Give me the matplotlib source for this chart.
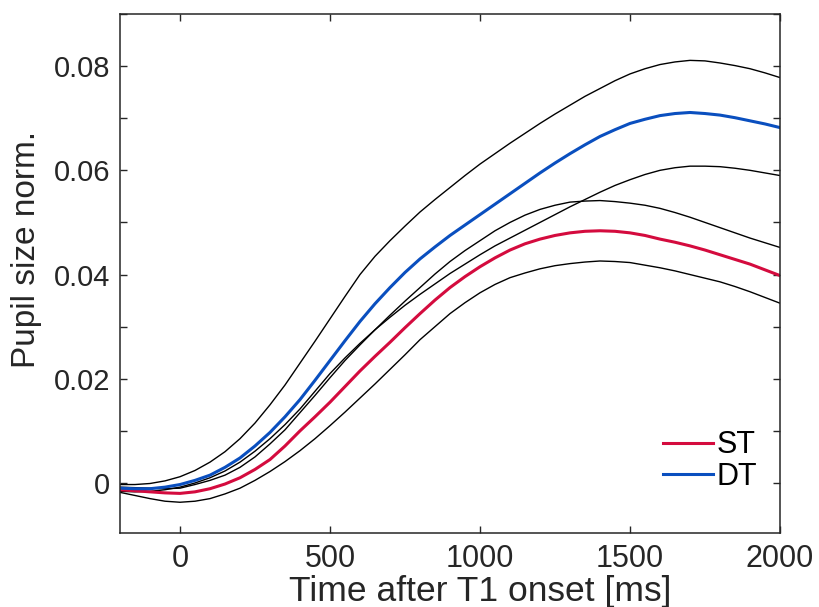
import matplotlib
matplotlib.use("Agg")
import matplotlib.pyplot as plt
from matplotlib.ticker import MultipleLocator, FuncFormatter

plt.rcParams['font.family'] = ['Liberation Sans', 'DejaVu Sans']

# time after T1 onset (ms), one sample every 50 ms
time_ms = [-200, -150, -100, -50, 0, 50, 100, 150, 200, 250, 300, 350, 400,
           450, 500, 550, 600, 650, 700, 750, 800, 850, 900, 950, 1000,
           1050, 1100, 1150, 1200, 1250, 1300, 1350, 1400, 1450, 1500,
           1550, 1600, 1650, 1700, 1750, 1800, 1850, 1900, 1950, 2000]

# single task (ST): mean and confidence bounds
st_mean = [-0.0013, -0.0015, -0.0017, -0.0019, -0.0020, -0.0017, -0.0011, -0.0002,
           0.0010, 0.0026, 0.0045, 0.0071, 0.0100, 0.0127, 0.0155, 0.0185,
           0.0215, 0.0243, 0.0270, 0.0298, 0.0325, 0.0351, 0.0375, 0.0396,
           0.0415, 0.0432, 0.0447, 0.0459, 0.0468, 0.0475, 0.0480, 0.0483,
           0.0484, 0.0483, 0.0480, 0.0475, 0.0468, 0.0462, 0.0455, 0.0447,
           0.0438, 0.0429, 0.0420, 0.0409, 0.0398]
st_upper = [-0.0008, -0.0009, -0.0010, -0.0011, -0.0010, -0.0003, 0.0005, 0.0015,
            0.0030, 0.0050, 0.0075, 0.0102, 0.0135, 0.0168, 0.0202, 0.0235,
            0.0265, 0.0294, 0.0322, 0.0349, 0.0375, 0.0401, 0.0425, 0.0446,
            0.0465, 0.0484, 0.0500, 0.0514, 0.0525, 0.0533, 0.0539, 0.0541,
            0.0542, 0.0540, 0.0537, 0.0533, 0.0527, 0.0519, 0.0510, 0.0500,
            0.0490, 0.0480, 0.0470, 0.0461, 0.0452]
st_lower = [-0.0018, -0.0024, -0.0030, -0.0035, -0.0037, -0.0035, -0.0030, -0.0021,
            -0.0010, 0.0005, 0.0022, 0.0041, 0.0062, 0.0085, 0.0110, 0.0136,
            0.0163, 0.0190, 0.0218, 0.0246, 0.0275, 0.0300, 0.0325, 0.0346,
            0.0365, 0.0381, 0.0394, 0.0403, 0.0411, 0.0417, 0.0421, 0.0424,
            0.0426, 0.0425, 0.0423, 0.0418, 0.0413, 0.0407, 0.0400, 0.0393,
            0.0386, 0.0377, 0.0367, 0.0356, 0.0345]

# dual task (DT): mean and confidence bounds
dt_mean = [-0.0010, -0.0011, -0.0011, -0.0008, -0.0003, 0.0005, 0.0015, 0.0030,
           0.0048, 0.0071, 0.0097, 0.0127, 0.0160, 0.0197, 0.0235, 0.0273,
           0.0310, 0.0344, 0.0375, 0.0404, 0.0430, 0.0453, 0.0475, 0.0495,
           0.0515, 0.0535, 0.0555, 0.0575, 0.0595, 0.0614, 0.0632, 0.0649,
           0.0665, 0.0678, 0.0690, 0.0698, 0.0705, 0.0709, 0.0711, 0.0709,
           0.0706, 0.0701, 0.0695, 0.0689, 0.0682]
dt_upper = [-0.0003, -0.0003, -0.0001, 0.0004, 0.0012, 0.0024, 0.0040, 0.0060,
            0.0085, 0.0115, 0.0150, 0.0188, 0.0230, 0.0272, 0.0315, 0.0358,
            0.0400, 0.0435, 0.0465, 0.0493, 0.0520, 0.0544, 0.0567, 0.0590,
            0.0612, 0.0632, 0.0652, 0.0671, 0.0690, 0.0708, 0.0725, 0.0742,
            0.0757, 0.0772, 0.0785, 0.0795, 0.0803, 0.0808, 0.0811, 0.0810,
            0.0806, 0.0801, 0.0795, 0.0787, 0.0778]
dt_lower = [-0.0016, -0.0017, -0.0016, -0.0013, -0.0008, 0.0000, 0.0010, 0.0023,
            0.0040, 0.0061, 0.0085, 0.0112, 0.0142, 0.0176, 0.0210, 0.0240,
            0.0268, 0.0294, 0.0318, 0.0341, 0.0362, 0.0382, 0.0402, 0.0420,
            0.0438, 0.0455, 0.0470, 0.0485, 0.0500, 0.0515, 0.0530, 0.0544,
            0.0558, 0.0571, 0.0582, 0.0592, 0.0600, 0.0605, 0.0608, 0.0608,
            0.0607, 0.0604, 0.0600, 0.0595, 0.0590]

fig = plt.figure(figsize=(8.2, 6.07), dpi=100)
ax = fig.add_axes([120/820, 74/607, 660/820, 519/607])

ax.plot(time_ms, st_upper, color='black', lw=1.0)
ax.plot(time_ms, st_lower, color='black', lw=1.0)
ax.plot(time_ms, dt_upper, color='black', lw=1.0)
ax.plot(time_ms, dt_lower, color='black', lw=1.0)
ax.plot(time_ms, st_mean, color='#d40b3e', lw=2.2, label='ST')
ax.plot(time_ms, dt_mean, color='#0a4fbf', lw=2.2, label='DT')

ax.set_xlim(-200, 2000)
ax.set_ylim(-0.0096, 0.09)
ax.set_xticks([0, 500, 1000, 1500, 2000])
ax.yaxis.set_major_locator(MultipleLocator(0.02))
ax.yaxis.set_minor_locator(MultipleLocator(0.01))
ax.yaxis.set_major_formatter(FuncFormatter(lambda v, p: '0' if abs(v) < 1e-9 else '%.2f' % v))

for s in ax.spines.values():
    s.set_color('#262626')
    s.set_linewidth(1.1)
ax.tick_params(which='both', direction='in', top=True, right=True,
               length=5, width=1.0, color='#262626', labelcolor='#262626',
               labelsize=21)
ax.tick_params(axis='x', pad=8, labelsize=22)
ax.tick_params(axis='y', pad=7)

ax.set_xlabel('Time after T1 onset [ms]', fontsize=25.5, color='#262626')
ax.set_ylabel('Pupil size norm.', fontsize=24, color='#262626')
ax.yaxis.set_label_coords(-0.118, 0.547)
ax.xaxis.set_label_coords(0.545, -0.08)

ax.legend(loc='lower right', bbox_to_anchor=(0.965, 0.079), frameon=False,
          fontsize=22, handlelength=1.65, handletextpad=0.1,
          labelspacing=0.05, borderaxespad=0, borderpad=0)

plt.savefig("out.png", dpi=100)
